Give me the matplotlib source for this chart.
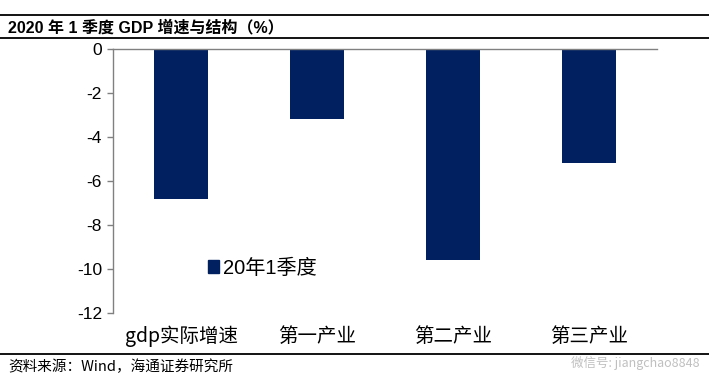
import numpy as np
import matplotlib.pyplot as plt
from matplotlib.patches import Patch
from matplotlib.lines import Line2D

plt.rcParams['font.family'] = ['Liberation Sans', 'Noto Sans CJK SC', 'DejaVu Sans']

# 数据
categories = ['gdp实际增速', '第一产业', '第二产业', '第三产业']
values = [-6.8, -3.2, -9.6, -5.2]
series_name = '20年1季度'
yticks = [0, -2, -4, -6, -8, -10, -12]

bar_color = '#002060'
grey = '#808080'

fig = plt.figure(figsize=(7.09, 3.81), dpi=100)
ax = fig.add_axes([113 / 709, 1 - 313 / 381, (657 - 113) / 709, (313 - 49) / 381])

x = np.arange(len(categories))
ax.bar(x, values, width=0.4, color=bar_color, zorder=2)

ax.set_xlim(-0.5, len(categories) - 0.5)
ax.set_ylim(-12, 0)
ax.set_yticks(yticks)
ax.set_yticklabels([str(t) for t in yticks], fontsize=12.5, family=['Liberation Sans'])
ax.set_xticks(x)
ax.set_xticklabels(categories, fontsize=14, family=['Noto Sans CJK SC', 'DejaVu Sans'])
ax.tick_params(axis='x', length=0, pad=9)
ax.tick_params(axis='y', length=4, color=grey, width=1, pad=4)

for s in ['right', 'bottom']:
    ax.spines[s].set_visible(False)
for s in ['left', 'top']:
    ax.spines[s].set_color(grey)
    ax.spines[s].set_linewidth(1)

ax.legend(handles=[Patch(color=bar_color, label=series_name)],
          loc='center left', bbox_to_anchor=(190 / 709, 1 - 268 / 381),
          bbox_transform=fig.transFigure, frameon=False,
          handlelength=0.55, handleheight=0.55, handletextpad=0.2,
          prop={'family': ['Liberation Sans', 'Noto Sans CJK SC'], 'size': 14.5})

# 标题与框线
for yy in [15, 38, 354]:
    fig.add_artist(Line2D([0, 1], [1 - yy / 381] * 2, color='black', lw=1.3,
                          transform=fig.transFigure))
fig.text(8 / 709, 1 - 27 / 381, '2020 年 1 季度 GDP 增速与结构（%）', fontsize=11.5,
         fontweight='bold', va='center', family=['Liberation Sans', 'Noto Sans CJK SC'])
fig.text(8 / 709, 1 - 367 / 381, '资料来源：Wind，海通证券研究所', fontsize=10.5,
         va='center', family=['Noto Sans CJK SC', 'DejaVu Sans'])
fig.text(700 / 709, 1 - 363 / 381, '微信号: jiangchao8848', fontsize=9, color='#b0b0b0',
         alpha=0.8, va='center', ha='right', family=['Noto Sans CJK SC', 'DejaVu Sans'])

fig.savefig('out.png', dpi=100)
